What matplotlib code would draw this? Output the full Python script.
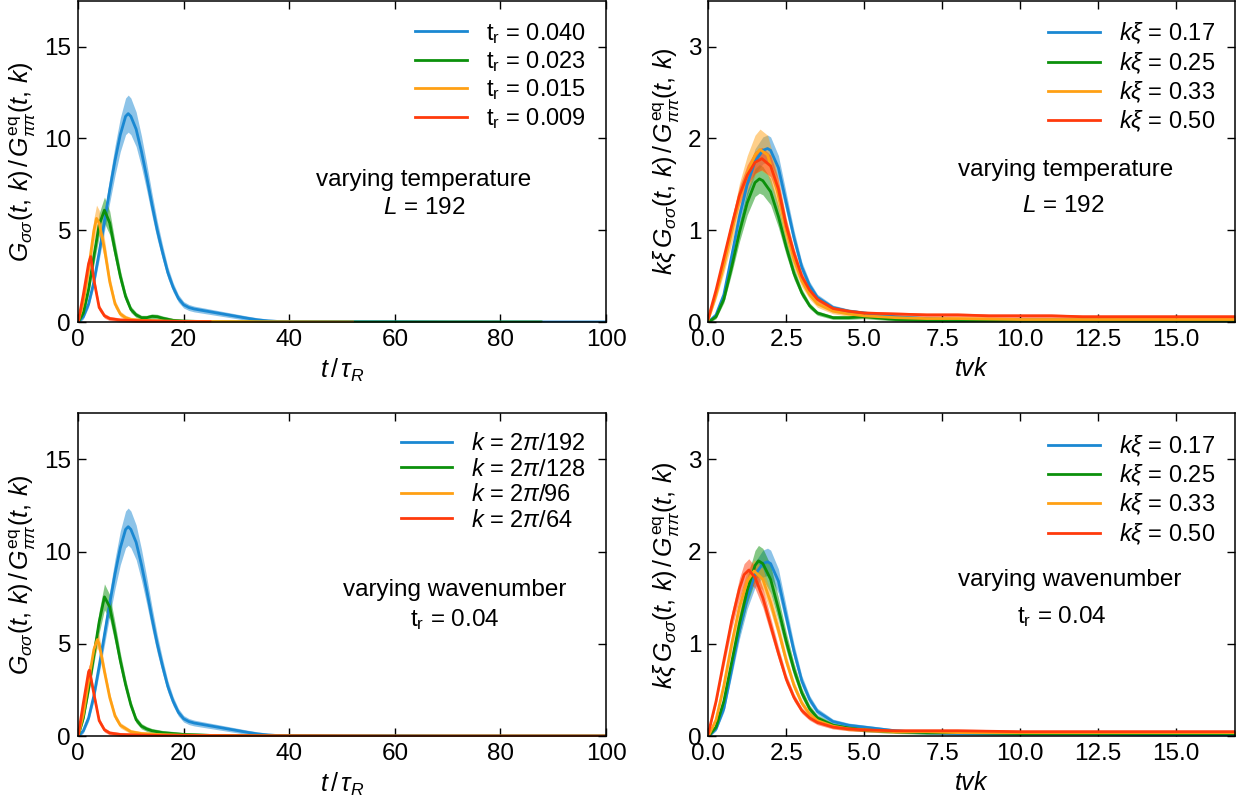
import numpy as np
import matplotlib
matplotlib.use('Agg')
import matplotlib.pyplot as plt

plt.rcParams['font.family'] = ['Liberation Sans', 'DejaVu Sans']
plt.rcParams['mathtext.fontset'] = 'custom'
plt.rcParams['mathtext.rm'] = 'Liberation Sans'
plt.rcParams['mathtext.it'] = 'Liberation Sans:italic'
plt.rcParams['mathtext.bf'] = 'Liberation Sans:bold'

colors = ['#1a88d2', '#0b900b', '#ffa014', '#ff3a0c']

# ---- top left: varying temperature, t/tau_R ----
tl_labels = [r'$\mathrm{t_r}$ = 0.040', r'$\mathrm{t_r}$ = 0.023',
             r'$\mathrm{t_r}$ = 0.015', r'$\mathrm{t_r}$ = 0.009']
tl_blue_t = [0, 1, 2, 3, 4, 5, 6, 7, 8, 9, 9.5, 10, 11, 12, 13, 14, 15, 16, 17, 18, 19, 20,
             21, 22, 24, 26, 28, 30, 32, 34, 36, 38, 40, 50, 60, 70, 80, 90, 100]
tl_blue_v = [0, 0.3, 1.0, 2.2, 3.8, 5.5, 7.2, 8.8, 10.2, 11.2, 11.35, 11.2, 10.5, 9.3, 7.9,
             6.4, 5.0, 3.8, 2.7, 1.9, 1.3, 0.95, 0.8, 0.72, 0.62, 0.52, 0.42, 0.32, 0.22,
             0.13, 0.07, 0.04, 0.03, 0.02, 0.02, 0.01, 0.01, 0.01, 0.01]
tl_green_t = [0, 1, 2, 3, 4, 5, 6, 7, 8, 9, 10, 11, 12, 13, 14, 15, 16, 18, 20, 25, 30,
              40, 50, 60, 70, 80, 87.7]
tl_green_v = [0, 0.5, 1.8, 3.6, 5.3, 6.1, 5.4, 3.9, 2.5, 1.4, 0.7, 0.4, 0.25, 0.25, 0.32,
              0.3, 0.22, 0.1, 0.06, 0.03, 0.02, 0.01, 0.01, 0.01, 0.01, 0.01, 0.01]
tl_orange_t = [0, 1, 2, 3, 3.5, 4, 5, 6, 7, 8, 9, 10, 12, 15, 20, 30, 40, 52]
tl_orange_v = [0, 1.1, 2.9, 5.0, 5.65, 5.4, 4.0, 2.2, 1.0, 0.45, 0.25, 0.15, 0.1, 0.07,
               0.05, 0.03, 0.02, 0.01]
tl_red_t = [0, 1, 2, 2.4, 3, 4, 5, 6, 8, 10, 12, 15, 20, 25]
tl_red_v = [0, 1.5, 3.2, 3.57, 2.3, 0.8, 0.35, 0.2, 0.12, 0.1, 0.08, 0.06, 0.04, 0.03]
tl_err = [0.08, 0.10, 0.11, 0.08]

# ---- bottom left: varying wavenumber, t/tau_R ----
bl_labels = [r'$k$ = 2$\pi$/192', r'$k$ = 2$\pi$/128',
             r'$k$ = 2$\pi$/96', r'$k$ = 2$\pi$/64']
bl_green_t = [0, 1, 2, 3, 4, 5, 6, 7, 8, 9, 10, 11, 12, 13, 14, 16, 18, 20, 25, 30, 40,
              50, 60, 80, 100]
bl_green_v = [0, 1.0, 2.6, 4.4, 6.2, 7.55, 7.0, 5.6, 4.1, 2.8, 1.7, 0.9, 0.55, 0.4, 0.3,
              0.2, 0.15, 0.1, 0.05, 0.03, 0.02, 0.01, 0.01, 0.01, 0.01]
bl_orange_t = [0, 1, 2, 3, 3.65, 4, 5, 6, 7, 8, 10, 12, 15, 20, 30, 40, 60, 80, 100]
bl_orange_v = [0, 1.2, 3.0, 4.7, 5.24, 5.0, 3.5, 2.1, 1.1, 0.6, 0.25, 0.15, 0.1, 0.06,
               0.03, 0.02, 0.01, 0.01, 0.01]
bl_red_t = [0, 1, 2, 2.15, 3, 4, 5, 6, 8, 10, 15, 20, 30, 40, 60, 80, 100]
bl_red_v = [0, 1.8, 3.5, 3.58, 2.3, 0.85, 0.35, 0.18, 0.1, 0.08, 0.05, 0.04, 0.03, 0.02,
            0.01, 0.01, 0.01]
bl_err = [0.08, 0.08, 0.07, 0.06]

# ---- top right: varying temperature, tvk ----
tr_labels = [r'$k\xi$ = 0.17', r'$k\xi$ = 0.25', r'$k\xi$ = 0.33', r'$k\xi$ = 0.50']
tr_blue_x = [0, 0.25, 0.5, 0.75, 1.0, 1.25, 1.5, 1.75, 1.9, 2.0, 2.25, 2.5, 2.75, 3.0,
             3.25, 3.5, 4.0, 4.5, 5.0, 6, 7, 8, 10, 12, 14, 16, 17]
tr_blue_v = [0, 0.08, 0.3, 0.72, 1.15, 1.5, 1.75, 1.87, 1.89, 1.87, 1.68, 1.3, 0.92, 0.6,
             0.4, 0.27, 0.16, 0.12, 0.1, 0.06, 0.04, 0.03, 0.03, 0.03, 0.02, 0.02, 0.02]
tr_green_x = [0, 0.25, 0.5, 0.75, 1.0, 1.25, 1.5, 1.64, 1.75, 2.0, 2.25, 2.5, 2.75, 3.0,
              3.25, 3.5, 4.0, 4.5, 5.0, 6, 7, 8, 10, 12, 14, 16, 17]
tr_green_v = [0, 0.06, 0.25, 0.6, 0.98, 1.3, 1.52, 1.56, 1.54, 1.42, 1.15, 0.82, 0.53,
              0.32, 0.18, 0.1, 0.05, 0.05, 0.06, 0.03, 0.02, 0.02, 0.02, 0.02, 0.02, 0.02,
              0.02]
tr_orange_x = [0, 0.25, 0.5, 0.75, 1.0, 1.25, 1.5, 1.66, 1.9, 2.1, 2.3, 2.5, 2.75, 3.0,
               3.25, 3.5, 4.0, 4.5, 5.0, 6, 7, 8, 10, 12, 14, 16, 17]
tr_orange_v = [0.03, 0.3, 0.62, 0.98, 1.35, 1.62, 1.82, 1.88, 1.82, 1.6, 1.3, 1.0, 0.68,
               0.45, 0.3, 0.2, 0.12, 0.09, 0.07, 0.05, 0.04, 0.04, 0.03, 0.03, 0.03, 0.03,
               0.03]
tr_red_x = [0, 0.25, 0.5, 0.75, 1.0, 1.25, 1.5, 1.72, 2.0, 2.25, 2.5, 2.75, 3.0, 3.25,
            3.5, 4.0, 4.5, 5.0, 6, 7, 8, 9, 10, 11, 12, 13, 14, 15, 16, 17]
tr_red_v = [0.04, 0.35, 0.7, 1.05, 1.38, 1.6, 1.74, 1.78, 1.7, 1.45, 1.05, 0.75, 0.5, 0.35,
            0.25, 0.15, 0.12, 0.1, 0.09, 0.08, 0.08, 0.07, 0.07, 0.07, 0.06, 0.06, 0.06,
            0.06, 0.06, 0.06]
tr_err = [0.07, 0.09, 0.11, 0.06]

# ---- bottom right: varying wavenumber, tvk ----
br_labels = tr_labels
br_green_x = [0, 0.25, 0.5, 0.75, 1.0, 1.25, 1.5, 1.61, 1.75, 2.0, 2.25, 2.5, 2.75, 3.0,
              3.25, 3.5, 4.0, 4.5, 5.0, 6, 7, 8, 10, 12, 14, 16, 17]
br_green_v = [0, 0.1, 0.38, 0.8, 1.22, 1.58, 1.85, 1.9, 1.87, 1.7, 1.38, 1.03, 0.72, 0.47,
              0.3, 0.2, 0.12, 0.09, 0.07, 0.05, 0.04, 0.04, 0.03, 0.03, 0.03, 0.03, 0.03]
br_orange_x = [0, 0.25, 0.5, 0.75, 1.0, 1.25, 1.47, 1.75, 2.0, 2.25, 2.5, 2.75, 3.0, 3.25,
               3.5, 4.0, 4.5, 5.0, 6, 7, 8, 10, 12, 14, 16, 17]
br_orange_v = [0, 0.18, 0.55, 1.0, 1.4, 1.68, 1.79, 1.7, 1.45, 1.15, 0.82, 0.55, 0.36,
               0.24, 0.17, 0.11, 0.08, 0.07, 0.05, 0.05, 0.04, 0.04, 0.04, 0.04, 0.04, 0.04]
br_red_x = [0, 0.25, 0.5, 0.75, 1.0, 1.15, 1.3, 1.5, 1.75, 2.0, 2.25, 2.5, 2.75, 3.0, 3.25,
            3.5, 4.0, 4.5, 5.0, 6, 7, 8, 10, 12, 14, 16, 17]
br_red_v = [0.03, 0.38, 0.82, 1.25, 1.6, 1.75, 1.8, 1.72, 1.5, 1.2, 0.9, 0.62, 0.42, 0.28,
            0.2, 0.15, 0.1, 0.08, 0.07, 0.06, 0.06, 0.06, 0.05, 0.05, 0.05, 0.05, 0.05]
br_err = [0.07, 0.08, 0.06, 0.06]

ylab_left = r'$G_{\sigma\sigma}(t,\, k)\,/\,G^{\mathrm{eq}}_{\pi\pi}(t,\, k)$'
ylab_right = r'$k\xi\, G_{\sigma\sigma}(t,\, k)\,/\,G^{\mathrm{eq}}_{\pi\pi}(t,\, k)$'

FS = 17.5


def draw(ax, curves, labels, err, floor):
    for (x, v), c, lab, e in zip(curves, colors, labels, err):
        x = np.asarray(x)
        v = np.asarray(v)
        d = e * v + floor
        ax.fill_between(x, v - d, v + d, color=c, alpha=0.5, lw=0)
        ax.plot(x, v, color=c, lw=2.0, label=lab)
    ax.tick_params(direction='in', top=True, right=True, labelsize=FS,
                   length=6, width=1.0, pad=5)
    for s in ax.spines.values():
        s.set_linewidth(1.1)
    ax.legend(loc='upper right', frameon=False, fontsize=FS - 0.5, handlelength=2.2,
              handletextpad=0.8, labelspacing=0.15, borderaxespad=0.45)


def setup_left(ax):
    ax.set_xlim(0, 100)
    ax.set_ylim(0, 17.5)
    ax.set_xticks([0, 20, 40, 60, 80, 100])
    ax.set_yticks([0, 5, 10, 15])
    ax.set_xlabel(r'$t\,/\,\tau_R$', fontsize=FS + 0.5)
    ax.set_ylabel(ylab_left, fontsize=FS + 0.5)


def setup_right(ax):
    ax.set_xlim(0, 16.9)
    ax.set_ylim(0, 3.5)
    ax.set_xticks([0, 2.5, 5, 7.5, 10, 12.5, 15])
    ax.set_xticklabels(['0.0', '2.5', '5.0', '7.5', '10.0', '12.5', '15.0'])
    ax.set_yticks([0, 1, 2, 3])
    ax.set_xlabel(r'$tvk$', fontsize=FS + 0.5)
    ax.set_ylabel(ylab_right, fontsize=FS + 0.5)


fig = plt.figure(figsize=(12.43, 8.05), dpi=100)
ax_tl = fig.add_axes([0.0628, 0.5997, 0.4248, 0.3996])
ax_tr = fig.add_axes([0.5698, 0.5997, 0.4240, 0.3996])
ax_bl = fig.add_axes([0.0628, 0.0853, 0.4248, 0.4016])
ax_br = fig.add_axes([0.5698, 0.0853, 0.4240, 0.4016])

draw(ax_tl, [(tl_blue_t, tl_blue_v), (tl_green_t, tl_green_v),
             (tl_orange_t, tl_orange_v), (tl_red_t, tl_red_v)], tl_labels, tl_err, 0.1)
draw(ax_bl, [(tl_blue_t, tl_blue_v), (bl_green_t, bl_green_v),
             (bl_orange_t, bl_orange_v), (bl_red_t, bl_red_v)], bl_labels, bl_err, 0.1)
draw(ax_tr, [(tr_blue_x, tr_blue_v), (tr_green_x, tr_green_v),
             (tr_orange_x, tr_orange_v), (tr_red_x, tr_red_v)], tr_labels, tr_err, 0.015)
draw(ax_br, [(tr_blue_x, tr_blue_v), (br_green_x, br_green_v),
             (br_orange_x, br_orange_v), (br_red_x, br_red_v)], br_labels, br_err, 0.015)

for ax in (ax_tl, ax_bl):
    setup_left(ax)
for ax in (ax_tr, ax_br):
    setup_right(ax)

ax_tl.text(0.655, 0.443, 'varying temperature', transform=ax_tl.transAxes,
           ha='center', va='center', fontsize=FS)
ax_tl.text(0.655, 0.355, r'$L$ = 192', transform=ax_tl.transAxes,
           ha='center', va='center', fontsize=FS)
ax_tr.text(0.679, 0.474, 'varying temperature', transform=ax_tr.transAxes,
           ha='center', va='center', fontsize=FS)
ax_tr.text(0.673, 0.36, r'$L$ = 192', transform=ax_tr.transAxes,
           ha='center', va='center', fontsize=FS)
ax_bl.text(0.714, 0.4525, 'varying wavenumber', transform=ax_bl.transAxes,
           ha='center', va='center', fontsize=FS)
ax_bl.text(0.714, 0.36, r'$\mathrm{t_r}$ = 0.04', transform=ax_bl.transAxes,
           ha='center', va='center', fontsize=FS)
ax_br.text(0.685, 0.483, 'varying wavenumber', transform=ax_br.transAxes,
           ha='center', va='center', fontsize=FS)
ax_br.text(0.67, 0.37, r'$\mathrm{t_r}$ = 0.04', transform=ax_br.transAxes,
           ha='center', va='center', fontsize=FS)

fig.savefig('out.png', dpi=100)
